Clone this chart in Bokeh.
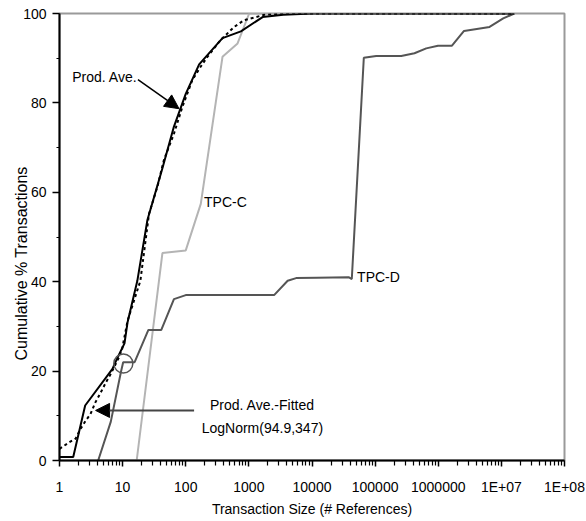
import math
from bokeh.plotting import figure
from bokeh.models import FixedTicker, Arrow, NormalHead, Label, Range1d, Title
from bokeh.embed import file_html
from bokeh.resources import INLINE

# ---------------- data ----------------
prod_x = [1, 1.65, 2.55, 6.9, 8.3, 10.7, 12.0, 17.1, 24.7, 42.7, 65, 100, 163, 382, 747, 1650, 3500, 10000, 1.6e7]
prod_y = [0.8, 0.8, 12.3, 20.5, 23.0, 26.2, 31.0, 40.2, 53.8, 65.4, 74.7, 82.0, 88.6, 94.5, 96.0, 99.2, 99.7, 100, 100]

fit_x = [1, 1.4, 1.8, 2.16, 2.6, 3.1, 3.7, 4.5, 5.4, 6.5, 8.7, 9.8, 12.0, 19.1, 26.2, 35.5, 45, 65, 88.4, 127, 172, 220, 359, 584, 840, 1750, 3600, 1.6e7]
fit_y = [2.6, 4.0, 4.9, 7.1, 8.9, 10.4, 13.0, 15.2, 17.4, 19.4, 23.0, 24.9, 31.3, 40.2, 55.2, 61.2, 67.2, 73.1, 79.1, 85.1, 88.1, 90.3, 94.1, 97.0, 98.5, 99.7, 100, 100]

tpcc_x = [16.7, 42.7, 100, 173, 382, 662, 1010, 1.6e7]
tpcc_y = [0, 46.4, 47.0, 57.4, 90.3, 93.3, 100, 100]

tpcd_x = [4.1, 6.5, 9.4, 10.2, 15.5, 25.6, 41, 65, 100, 2510, 4115, 5600, 12000, 38000, 42700, 66200,
          1.04e5, 2.59e5, 4.2e5, 6.45e5, 9.9e5, 1.65e6, 2.56e6, 6.5e6, 1.07e7, 1.6e7]
tpcd_y = [0, 8.7, 19.8, 22.0, 22.0, 29.2, 29.2, 36.1, 37.0, 37.0, 40.2, 40.8, 40.9, 41.0, 40.6, 90.1,
          90.5, 90.5, 91.1, 92.2, 92.8, 92.8, 96.1, 97.0, 98.9, 100]

x_ticks = [1, 10, 100, 1000, 10000, 100000, 1000000, 1e7, 1e8]
x_tick_labels = ["1", "10", "100", "1000", "10000", "100000", "1000000", "1E+07", "1E+08"]
y_ticks = [0, 20, 40, 60, 80, 100]
y_minor = [10, 30, 50, 70, 90]

x_title = "Transaction Size (# References)"
y_title = "Cumulative % Transactions"

# ---------------- figure ----------------
FONT = "Liberation Sans"
FS = "14px"

p = figure(width=586, height=521, x_axis_type="log",
           x_range=Range1d(1, 1e8), y_range=Range1d(0, 100),
           output_backend="svg", toolbar_location=None,
           min_border_left=59, min_border_right=22, min_border_top=13, min_border_bottom=61)

p.xgrid.visible = False
p.ygrid.visible = False
p.outline_line_color = "#9a9a9a"
p.outline_line_width = 2
p.background_fill_color = "white"

minor_x = [m * 10 ** k for k in range(8) for m in range(2, 10)]
p.xaxis.ticker = FixedTicker(ticks=x_ticks, minor_ticks=minor_x)
p.xaxis.major_label_overrides = {float(t): l for t, l in zip(x_ticks, x_tick_labels)}
p.yaxis.ticker = FixedTicker(ticks=y_ticks, minor_ticks=y_minor)

for ax in (p.xaxis, p.yaxis):
    ax.axis_line_color = "black"
    ax.axis_line_width = 2
    ax.major_tick_line_color = "black"
    ax.minor_tick_line_color = "black"
    ax.major_tick_line_width = 1.5
    ax.minor_tick_line_width = 1.2
    ax.major_tick_in = 0
    ax.minor_tick_in = 0
    ax.major_label_text_font = FONT
    ax.major_label_text_font_size = FS
    ax.major_label_text_color = "black"

p.xaxis.major_tick_out = 6
p.xaxis.minor_tick_out = 5
p.xaxis.major_label_standoff = 12
p.xaxis.axis_label = x_title
p.xaxis.axis_label_text_font = FONT
p.xaxis.axis_label_text_font_size = FS
p.xaxis.axis_label_text_font_style = "normal"
p.xaxis.axis_label_text_color = "black"
p.xaxis.axis_label_standoff = 3

p.yaxis.major_tick_out = 7
p.yaxis.minor_tick_out = 3
p.yaxis.major_label_standoff = 6

# y title, placed on the left side and shifted like the reference
p.add_layout(Title(text=y_title, align="left", offset=100, standoff=-18,
                   text_font="Liberation Sans", text_font_size="16px",
                   text_font_style="normal", text_color="black"), "left")

# ---------------- series ----------------
p.line(tpcc_x, tpcc_y, line_color="#b4b4b4", line_width=2)
p.line(tpcd_x, tpcd_y, line_color="#555555", line_width=2)
p.line(prod_x, prod_y, line_color="black", line_width=2)
p.line(fit_x, fit_y, line_color="black", line_width=2, line_dash="3 3")

# circle marking the fitted curve start
p.scatter([10.26], [21.7], marker="circle", size=19, fill_color=None,
          line_color="#555555", line_width=1.5)

# arrows
p.add_layout(Arrow(end=NormalHead(size=14, fill_color="black", line_color="black"),
                   x_start=17.5, y_start=85.2, x_end=78.3, y_end=78.7,
                   line_color="black", line_width=1.5))
p.add_layout(Arrow(end=NormalHead(size=14, fill_color="black", line_color="black"),
                   x_start=135.5, y_start=11.2, x_end=3.73, y_end=11.2,
                   line_color="#444444", line_width=2))

# text annotations
def lab(x, y, t, align="left"):
    p.add_layout(Label(x=x, y=y, text=t, text_align=align, text_baseline="middle",
                       text_font=FONT, text_font_size=FS, text_color="black"))

lab(1.59, 85.8, "Prod. Ave.")
lab(195, 57.8, "TPC-C")
lab(51800, 41.0, "TPC-D")
lab(1638, 12.4, "Prod. Ave.-Fitted", "center")
lab(1638, 7.35, "LogNorm(94.9,347)", "center")

open("out.html", "w").write(file_html(p, INLINE))
